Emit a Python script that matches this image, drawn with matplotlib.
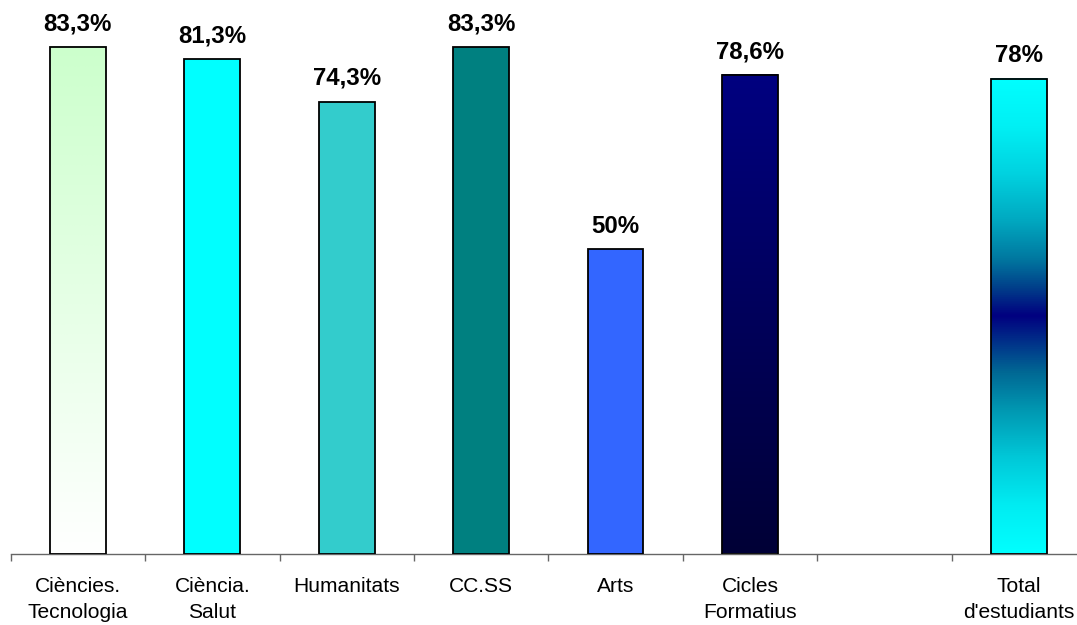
import numpy as np
import matplotlib
matplotlib.use("Agg")
import matplotlib.pyplot as plt
from matplotlib.colors import LinearSegmentedColormap, to_rgb

plt.rcParams['font.family'] = ['Liberation Sans', 'DejaVu Sans']

# Categories (one empty slot before the total)
categories = ["Ciències.\nTecnologia", "Ciència.\nSalut", "Humanitats", "CC.SS",
              "Arts", "Cicles\nFormatius", "", "Total\nd'estudiants"]
values = [83.3, 81.3, 74.3, 83.3, 50.0, 78.6, None, 78.0]
value_labels = ["83,3%", "81,3%", "74,3%", "83,3%", "50%", "78,6%", None, "78%"]

# Fill per bar: a single colour or a list of (position, colour) gradient stops, top -> bottom
fills = [
    [(0.0, "#CCFFCC"), (1.0, "#FFFFFF")],
    "#00FFFF",
    "#33CCCC",
    "#008080",
    "#3366FF",
    [(0.0, "#000080"), (1.0, "#000036")],
    None,
    [(0.0, "#00FFFF"), (0.1, "#00F0F4"), (0.2, "#00D2E0"), (0.3, "#00A8C0"),
     (0.38, "#0078A0"), (0.44, "#00408A"), (0.5, "#000080"),
     (0.56, "#00348A"), (0.62, "#006894"), (0.7, "#0098B2"), (0.8, "#00C8D8"),
     (0.9, "#00ECF2"), (1.0, "#00FFFF")],
]

W, H, DPI = 1077, 625, 100
fig = plt.figure(figsize=(W / DPI, H / DPI), dpi=DPI)
fig.patch.set_facecolor("white")

n = len(categories)
left_px, right_px = 10.7, 10.7 + 134.4 * n
bottom_px = 553.5
ax = fig.add_axes([left_px / W, (H - bottom_px) / H, (right_px - left_px) / W, bottom_px / H])

bar_w = 0.414
centers = np.arange(n) + 0.5

for i, (v, fill, lab) in enumerate(zip(values, fills, value_labels)):
    if v is None:
        continue
    x0 = centers[i] - bar_w / 2
    if isinstance(fill, list):
        cmap = LinearSegmentedColormap.from_list(
            f"g{i}", [(p, to_rgb(c)) for p, c in fill])
        grad = np.linspace(0, 1, 512).reshape(-1, 1)
        ax.imshow(grad, cmap=cmap, aspect="auto", origin="upper",
                  extent=(x0, x0 + bar_w, 0, v), zorder=2, interpolation="bilinear")
        ax.bar(centers[i], v, width=bar_w, facecolor="none", edgecolor="black",
               linewidth=1.3, zorder=3)
    else:
        ax.bar(centers[i], v, width=bar_w, facecolor=fill, edgecolor="black",
               linewidth=1.3, zorder=3)
    ax.annotate(lab, (centers[i], v), xytext=(0, 12.0), textcoords="offset points",
                ha="center", va="baseline", fontsize=17.3, fontweight="bold",
                color="black", zorder=4)

ax.set_xlim(0, n)
ax.set_ylim(0, 91.0)

for s in ["top", "right", "left"]:
    ax.spines[s].set_visible(False)
ax.spines["bottom"].set_color("#666666")
ax.spines["bottom"].set_linewidth(1.0)
ax.set_yticks([])

# Ticks at category boundaries, labels at category centres
ax.set_xticks(np.arange(n + 1))
ax.set_xticklabels([])
ax.tick_params(axis="x", which="major", direction="out", length=5, width=1.0,
               color="#666666")
ax.set_xticks(centers, minor=True)
ax.set_xticklabels(categories, minor=True, fontsize=15.1, linespacing=1.46)
ax.tick_params(axis="x", which="minor", length=0, pad=17)

fig.savefig("out.png", dpi=DPI, facecolor="white")
